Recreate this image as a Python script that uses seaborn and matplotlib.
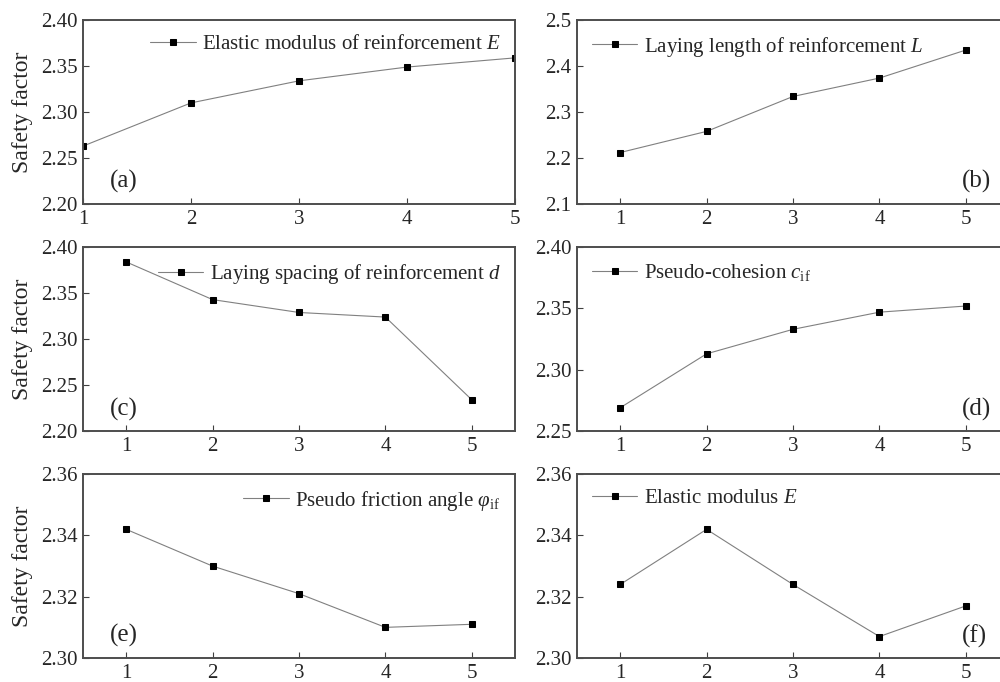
import numpy as np
import matplotlib
matplotlib.use("Agg")
import matplotlib.pyplot as plt
import matplotlib.ticker as mticker
import seaborn as sns

# Set style
sns.set_style("ticks")
plt.rcParams["font.family"] = ["Liberation Serif", "DejaVu Serif"]
plt.rcParams["mathtext.fontset"] = "custom"
plt.rcParams["mathtext.rm"] = "Liberation Serif"
plt.rcParams["mathtext.it"] = "Liberation Serif:italic"
plt.rcParams["xtick.direction"] = "in"
plt.rcParams["ytick.direction"] = "in"

# Data
levels = [1, 2, 3, 4, 5]
sf_a = [2.263, 2.310, 2.334, 2.349, 2.359]
sf_b = [2.212, 2.258, 2.334, 2.374, 2.435]
sf_c = [2.384, 2.343, 2.329, 2.324, 2.234]
sf_d = [2.269, 2.313, 2.333, 2.347, 2.352]
sf_e = [2.342, 2.330, 2.321, 2.310, 2.311]
sf_f = [2.324, 2.342, 2.324, 2.307, 2.317]

labels = [
    "Elastic modulus of reinforcement $E$",
    "Laying length of reinforcement $L$",
    "Laying spacing of reinforcement $d$",
    "Pseudo-cohesion $c_{\\mathrm{if}}$",
    "Pseudo friction angle $\\varphi_{\\mathrm{if}}$",
    "Elastic modulus $E$",
]
tags = ["(a)", "(b)", "(c)", "(d)", "(e)", "(f)"]
series = [sf_a, sf_b, sf_c, sf_d, sf_e, sf_f]
ylims = [(2.20, 2.40), (2.1, 2.5), (2.20, 2.40), (2.25, 2.40), (2.30, 2.36), (2.30, 2.36)]
ysteps = [0.05, 0.1, 0.05, 0.05, 0.02, 0.02]
yfmt = ["%.2f", "%.1f", "%.2f", "%.2f", "%.2f", "%.2f"]
legend_loc = ["upper right", "upper left", "upper right", "upper left", "upper right", "upper left"]

fig = plt.figure(figsize=(10, 6.82), dpi=100)

lefts = [0.083, 0.577]
bottoms = [0.7009, 0.368, 0.0352]
w, h = 0.432, 0.2695

for i in range(6):
    row, col = divmod(i, 2)
    ax = fig.add_axes([lefts[col], bottoms[row], w, h])
    sns.lineplot(x=levels, y=series[i], ax=ax, color="#808080", linewidth=0.8,
                 marker="s", markersize=5, markerfacecolor="black",
                 markeredgecolor="black", label=labels[i])
    if i == 0:
        ax.set_xlim(1, 5)
    else:
        ax.set_xlim(0.5, 5.5)
    ax.set_ylim(*ylims[i])
    ax.set_xticks(levels)
    ax.yaxis.set_major_locator(mticker.MultipleLocator(ysteps[i]))
    ax.yaxis.set_major_formatter(mticker.FormatStrFormatter(yfmt[i]))
    ax.tick_params(axis="both", labelsize=15, length=4, width=0.8, color="#404040",
                   top=False, right=False, pad=4)
    for s in ax.spines.values():
        s.set_color("#4d4d4d")
        s.set_linewidth(1.4)
    leg = ax.legend(loc=legend_loc[i], frameon=False, fontsize=15,
                    handlelength=2.2, handletextpad=0.3, borderaxespad=0.3)
    if col == 0:
        ax.set_ylabel("Safety factor", fontsize=17)
        ax.yaxis.set_label_coords(-0.115, 0.5)
        ax.text(0.062, 0.12, tags[i], transform=ax.transAxes, fontsize=18, va="center")
    else:
        ax.text(0.89, 0.12, tags[i], transform=ax.transAxes, fontsize=18, va="center")

plt.savefig("out.png", dpi=100)
plt.close()
